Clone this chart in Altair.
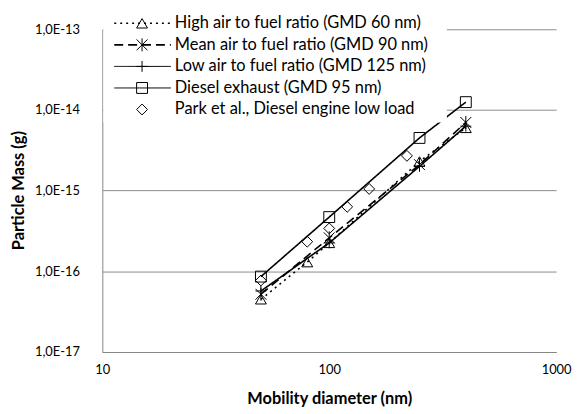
import altair as alt
import pandas as pd

FONT = "Lato"

series = [
    "High air to fuel ratio (GMD 60 nm)",
    "Mean air to fuel ratio (GMD 90 nm)",
    "Low air to fuel ratio (GMD 125 nm)",
    "Diesel exhaust (GMD 95 nm)",
    "Park et al., Diesel engine low load",
]

high_d = [50, 80, 100, 250, 400]
high_m = [4.5e-17, 1.3e-16, 2.25e-16, 2.3e-15, 6.0e-15]
mean_d = [50, 100, 250, 400]
mean_m = [5.2e-17, 2.6e-16, 2.1e-15, 7.0e-15]
low_d = [50, 100, 250, 400]
low_m = [5.7e-17, 2.25e-16, 2.0e-15, 6.3e-15]
diesel_d = [50, 100, 250, 400]
diesel_m = [8.6e-17, 4.7e-16, 4.5e-15, 1.25e-14]
park_d = [50, 80, 100, 120, 150, 220]
park_m = [7.7e-17, 2.33e-16, 3.4e-16, 6.3e-16, 1.05e-15, 2.7e-15]

x_ticks = [10, 100, 1000]
y_ticks = [1e-17, 1e-16, 1e-15, 1e-14, 1e-13]

ASTERISK = "M-1,-1L1,1M-1,1L1,-1M0,-1.2L0,1.2"
PLUS = "M-1,0L1,0M0,-1L0,1"
shapes = ["triangle-up", ASTERISK, PLUS, "square", "diamond"]
dashes = [[2, 4], [9, 5], [1, 0], [1, 0], [1, 0]]
widths = [1.6, 1.6, 1, 1, 1]

rows = []
for name, ds, ms in zip(series, [high_d, mean_d, low_d, diesel_d, park_d],
                        [high_m, mean_m, low_m, diesel_m, park_m]):
    for d, m in zip(ds, ms):
        rows.append({"series": name, "d": d, "m": m})
df = pd.DataFrame(rows)

xscale = alt.Scale(type="log", domain=[10, 1000], nice=False)
yscale = alt.Scale(type="log", domain=[1e-17, 1e-13], nice=False)

xaxis = alt.Axis(values=x_ticks, labelExpr="format(datum.value, 'd')", grid=False,
                 labelFlush=False, ticks=False, tickSize=0, labelPadding=12,
                 title="Mobility diameter (nm)", titleY=47, titleBaseline="middle")
yaxis = alt.Axis(values=y_ticks, labelExpr="'1,0E' + round(log(datum.value) / LN10)",
                 grid=True, labelFlush=False, ticks=False, tickSize=0, labelPadding=23,
                 title="Particle Mass (g)", titleX=-84, titleY=162, titleBaseline="middle")

base = alt.Chart(df)
lines = base.transform_filter(alt.datum.series != series[4]).mark_line(color="black").encode(
    x=alt.X("d:Q", scale=xscale, axis=xaxis),
    y=alt.Y("m:Q", scale=yscale, axis=yaxis),
    detail="series:N",
    order="d:Q",
    strokeDash=alt.StrokeDash("series:N", scale=alt.Scale(domain=series, range=dashes), legend=None),
    strokeWidth=alt.StrokeWidth("series:N", scale=alt.Scale(domain=series, range=widths), legend=None),
)
points = base.mark_point(filled=False, color="black", strokeWidth=1, size=120, opacity=1).encode(
    x=alt.X("d:Q", scale=xscale, axis=xaxis),
    y=alt.Y("m:Q", scale=yscale, axis=yaxis),
    shape=alt.Shape("series:N", scale=alt.Scale(domain=series, range=shapes), legend=None),
)

box = alt.Chart(pd.DataFrame({"a": [0]})).mark_rect(color="white").encode(
    x=alt.value(1), x2=alt.value(347), y=alt.value(-20), y2=alt.value(94)
)

legend_layers = []
for i, name in enumerate(series):
    row = pd.DataFrame({"label": [name]})
    yy = -6 + i * 21.7
    c = alt.Chart(row)
    if i < 4:
        legend_layers.append(
            c.mark_rule(color="black", strokeWidth=widths[i], strokeDash=dashes[i]).encode(
                x=alt.value(12), x2=alt.value(69), y=alt.value(yy)
            )
        )
    legend_layers.append(
        c.mark_point(shape=shapes[i], filled=False, color="black", size=120, strokeWidth=1, opacity=1).encode(
            x=alt.value(40), y=alt.value(yy)
        )
    )
    legend_layers.append(
        c.mark_text(align="left", baseline="middle", font=FONT, fontSize=16.5, color="black").encode(
            x=alt.value(73), y=alt.value(yy), text="label:N"
        )
    )

chart = alt.layer(lines, points, box, *legend_layers).properties(
    width=457,
    height=325,
    autosize=alt.AutoSizeParams(type="none"),
    padding={"left": 95, "top": 20, "right": 16, "bottom": 58},
).configure_view(stroke=None).configure_axis(
    labelFont=FONT, labelFontSize=13, labelColor="black",
    titleFont=FONT, titleFontSize=16.5, titleFontWeight="bold", titleColor="black",
    domainColor="#868686", gridColor="#8c8c8c", gridWidth=1,
)

chart.save("out.html", embed_options={"renderer": "svg", "actions": False})
